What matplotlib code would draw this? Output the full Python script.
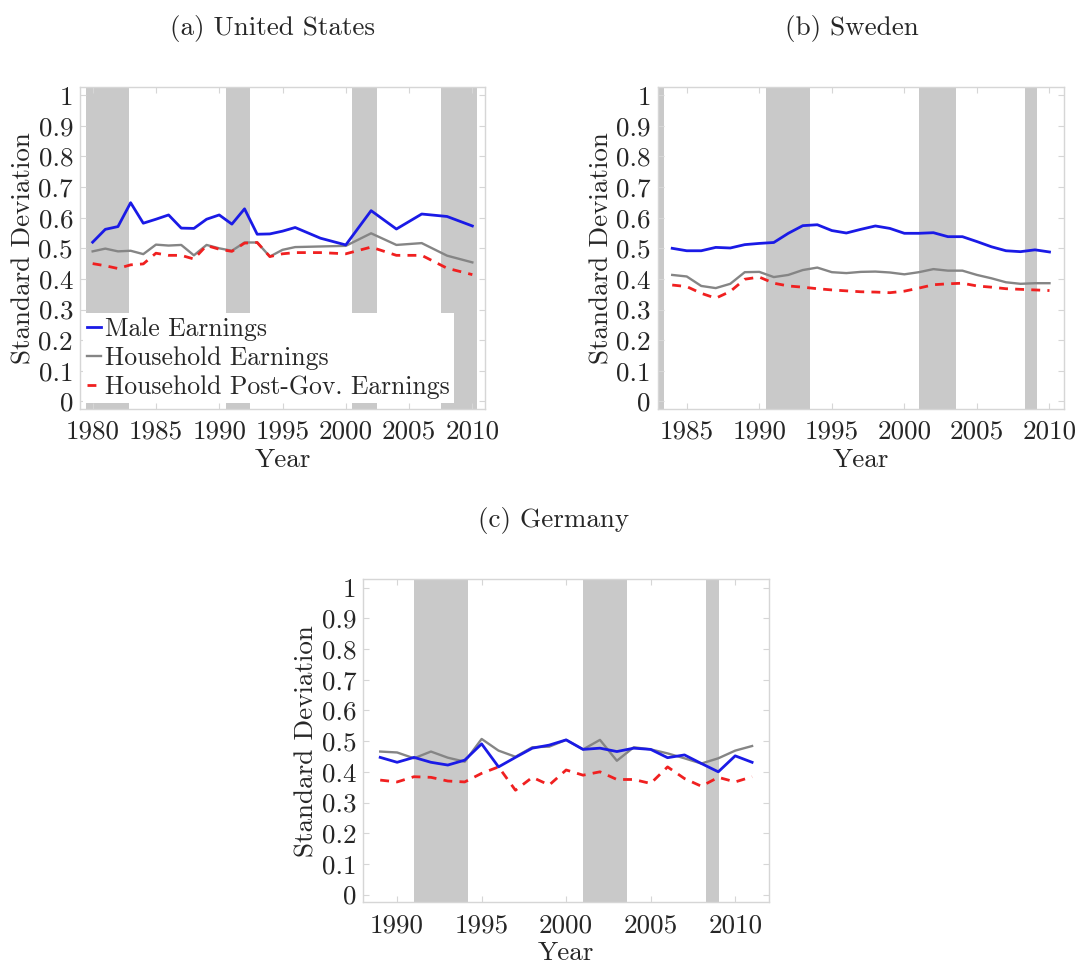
import matplotlib
matplotlib.use("Agg")
import matplotlib.pyplot as plt

plt.rcParams['font.family'] = ['cmr10', 'DejaVu Serif']
plt.rcParams['mathtext.fontset'] = 'cm'
plt.rcParams['axes.formatter.use_mathtext'] = True

# ---------------- data ----------------
us_years = [1980, 1981, 1982, 1983, 1984, 1985, 1986, 1987, 1988, 1989, 1990,
            1991, 1992, 1993, 1994, 1995, 1996, 1998, 2000, 2002, 2004, 2006,
            2008, 2010]
us_male = [0.520, 0.562, 0.571, 0.649, 0.582, 0.595, 0.609, 0.566, 0.565, 0.595,
           0.609, 0.579, 0.629, 0.546, 0.547, 0.556, 0.568, 0.533, 0.511, 0.623,
           0.563, 0.612, 0.604, 0.573]
us_hh = [0.490, 0.499, 0.490, 0.492, 0.481, 0.512, 0.509, 0.511, 0.477, 0.511,
         0.500, 0.492, 0.519, 0.519, 0.473, 0.495, 0.504, 0.506, 0.508, 0.549,
         0.511, 0.517, 0.476, 0.454]
us_post = [0.450, 0.443, 0.434, 0.446, 0.449, 0.484, 0.477, 0.477, 0.465, 0.509,
           0.497, 0.490, 0.517, 0.519, 0.473, 0.482, 0.486, 0.486, 0.482, 0.504,
           0.477, 0.477, 0.435, 0.414]
us_recessions = [(1979.5, 1982.9), (1990.5, 1992.4), (2000.5, 2002.45), (2007.5, 2010.4)]

se_years = list(range(1984, 2011))
se_male = [0.500, 0.492, 0.492, 0.503, 0.501, 0.512, 0.516, 0.519, 0.549, 0.574,
           0.577, 0.558, 0.550, 0.562, 0.573, 0.565, 0.549, 0.549, 0.551, 0.538,
           0.538, 0.522, 0.505, 0.492, 0.489, 0.495, 0.488]
se_hh = [0.413, 0.408, 0.377, 0.370, 0.384, 0.422, 0.423, 0.406, 0.413, 0.429,
         0.437, 0.422, 0.419, 0.423, 0.424, 0.421, 0.415, 0.422, 0.432, 0.427,
         0.427, 0.413, 0.402, 0.389, 0.384, 0.386, 0.386]
se_post = [0.380, 0.375, 0.353, 0.337, 0.359, 0.399, 0.406, 0.386, 0.377, 0.373,
           0.368, 0.364, 0.361, 0.358, 0.357, 0.355, 0.360, 0.370, 0.381, 0.384,
           0.386, 0.377, 0.373, 0.368, 0.366, 0.364, 0.362]
se_recessions = [(1983.0, 1983.4), (1990.45, 1993.5), (2001.0, 2003.55), (2008.3, 2009.15)]

de_years = list(range(1989, 2012))
de_male = [0.447, 0.431, 0.447, 0.431, 0.422, 0.438, 0.491, 0.416, 0.447, 0.477,
           0.487, 0.504, 0.473, 0.477, 0.466, 0.477, 0.473, 0.446, 0.455, 0.427,
           0.400, 0.452, 0.431]
de_hh = [0.466, 0.463, 0.444, 0.466, 0.446, 0.433, 0.507, 0.469, 0.449, 0.480,
         0.482, 0.504, 0.473, 0.504, 0.436, 0.480, 0.473, 0.460, 0.444, 0.427,
         0.444, 0.469, 0.484]
de_post = [0.373, 0.367, 0.384, 0.382, 0.370, 0.367, 0.395, 0.416, 0.340, 0.382,
           0.357, 0.406, 0.389, 0.400, 0.375, 0.375, 0.362, 0.416, 0.378, 0.353,
           0.382, 0.367, 0.384]
de_recessions = [(1991.0, 1994.2), (2001.0, 2003.6), (2008.3, 2009.05)]

yticks = [0, 0.1, 0.2, 0.3, 0.4, 0.5, 0.6, 0.7, 0.8, 0.9, 1]
ytick_labels = ['0', '0.1', '0.2', '0.3', '0.4', '0.5', '0.6', '0.7', '0.8', '0.9', '1']
labels = ['Male Earnings', 'Household Earnings', 'Household Post-Gov. Earnings']

# ---------------- figure ----------------
W, H = 1077, 963
fig = plt.figure(figsize=(W / 100, H / 100), dpi=100)

FS = 19.5
FRAME = '#d6d6d6'
SHADE = '#c9c9c9'
TXT = '#262626'


def px_axes(left, right, top, bottom):
    return fig.add_axes([left / W, 1 - bottom / H, (right - left) / W, (bottom - top) / H])


def draw(ax, years, male, hh, post, recs, xlim, xticks):
    for a, b in recs:
        ax.axvspan(a, b, color=SHADE, lw=0, zorder=0)
    l1, = ax.plot(years, male, color='#1a1ae6', lw=2.0, zorder=3)
    l2, = ax.plot(years, hh, color='#858585', lw=1.7, zorder=2)
    l3, = ax.plot(years, post, color='#f02020', lw=2.0, ls=(0, (3.2, 2.6)), zorder=2)
    ax.set_xlim(*xlim)
    ax.set_ylim(-0.025, 1.027)
    ax.set_yticks(yticks)
    ax.set_yticklabels(ytick_labels)
    ax.set_xticks(xticks)
    ax.set_xticklabels([str(t) for t in xticks])
    ax.tick_params(direction='in', length=4, width=0.8, color=FRAME,
                   labelsize=FS, labelcolor=TXT, top=True, right=True, pad=5)
    ax.tick_params(axis='x', pad=8)
    for s in ax.spines.values():
        s.set_color(FRAME)
        s.set_linewidth(1.0)
    ax.set_xlabel('Year', fontsize=FS, color=TXT, labelpad=3)
    ax.set_ylabel('Standard Deviation', fontsize=FS, color=TXT, labelpad=2)
    return [l1, l2, l3]


ax1 = px_axes(80, 485, 87, 409)
handles = draw(ax1, us_years, us_male, us_hh, us_post, us_recessions,
               (1979, 2011), [1980, 1985, 1990, 1995, 2000, 2005, 2010])
leg = ax1.legend(handles, labels, loc='lower left', bbox_to_anchor=(0.008, 0.018),
                 fontsize=18.5, frameon=True, fancybox=False, framealpha=1,
                 edgecolor='white', handlelength=0.55, handletextpad=0.15,
                 labelspacing=0.22, borderpad=0.15, borderaxespad=0.0)
leg.get_frame().set_linewidth(0)
for t in leg.get_texts():
    t.set_color(TXT)

ax2 = px_axes(657.7, 1064, 87, 409)
draw(ax2, se_years, se_male, se_hh, se_post, se_recessions,
     (1983, 2011), [1985, 1990, 1995, 2000, 2005, 2010])

ax3 = px_axes(363.3, 769, 579.3, 902.3)
draw(ax3, de_years, de_male, de_hh, de_post, de_recessions,
     (1988, 2012), [1990, 1995, 2000, 2005, 2010])

fig.text(272 / W, 1 - 28 / H, '(a) United States', ha='center', va='center',
         fontsize=FS, color=TXT)
fig.text(852 / W, 1 - 28 / H, '(b) Sweden', ha='center', va='center',
         fontsize=FS, color=TXT)
fig.text(554 / W, 1 - 521 / H, '(c) Germany', ha='center', va='center',
         fontsize=FS, color=TXT)

fig.savefig('out.png', dpi=100)
